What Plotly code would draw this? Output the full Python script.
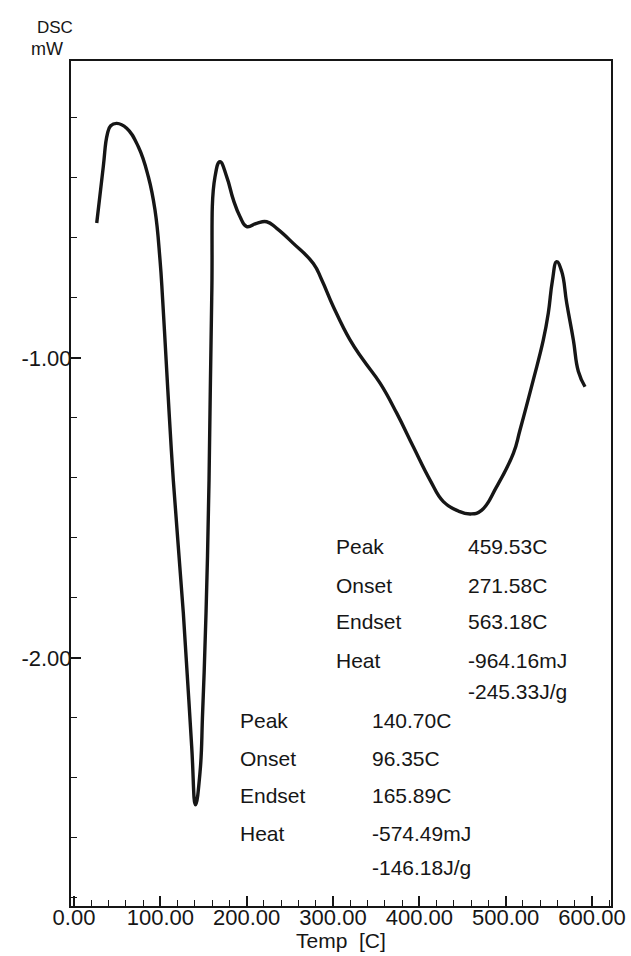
import plotly.graph_objects as go

# DSC trace: temperature (C) vs heat flow (mW)
temp_c = [26.3, 33.9, 38.5, 42.5, 49.5, 61.0, 74.5, 86.1, 93.8, 99.6, 102.7,
          108.5, 115.0, 126.6, 136.3, 140.7, 146.0, 149.0, 152.9, 156.4, 159.5,
          163.3, 169.1, 176.9, 184.6, 192.3, 200.0, 211.6, 223.2, 234.8,
          254.0, 277.2, 287.0, 300.4, 319.7, 335.1, 354.5, 373.8, 393.0,
          412.4, 427.8, 445.0, 459.53, 472.0, 489.6, 508.9, 516.6, 532.0,
          543.6, 549.4, 554.0, 559.1, 564.9, 570.7, 578.4, 584.2, 591.9]
dsc_mw = [-0.550, -0.362, -0.255, -0.226, -0.218, -0.234, -0.296, -0.396, -0.507, -0.673, -0.807,
          -1.100, -1.407, -1.850, -2.296, -2.490, -2.380, -2.180, -1.850, -1.407, -0.800,
          -0.396, -0.346, -0.396, -0.473, -0.529, -0.562, -0.551, -0.546, -0.568,
          -0.618, -0.685, -0.740, -0.829, -0.940, -1.007, -1.084, -1.184, -1.296,
          -1.407, -1.479, -1.510, -1.520, -1.508, -1.429, -1.318, -1.240, -1.073,
          -0.940, -0.850, -0.745, -0.679, -0.712, -0.817, -0.940, -1.045, -1.096]

x_tick_vals = [0, 100, 200, 300, 400, 500, 600]
x_tick_text = ["0.00", "100.00", "200.00", "300.00", "400.00", "500.00", "600.00"]
y_tick_vals = [-1.0, -2.0]
y_tick_text = ["-1.00", "-2.00"]

# Peak analysis results
peak_labels = ["Peak", "Onset", "Endset", "Heat", ""]
peak2_values = ["459.53C", "271.58C", "563.18C", "-964.16mJ", "-245.33J/g"]
peak1_values = ["140.70C", "96.35C", "165.89C", "-574.49mJ", "-146.18J/g"]

INK = "#161616"
FONT = "Liberation Sans, Arial, sans-serif"

fig = go.Figure()
fig.add_trace(go.Scatter(
    x=temp_c, y=dsc_mw, mode="lines",
    line=dict(color=INK, width=3.4, shape="spline", smoothing=1.3),
    hoverinfo="skip", showlegend=False,
))

annotations = []

def add_block(x_label, x_value, y_rows, values):
    for lab, val, yy in zip(peak_labels, values, y_rows):
        if lab:
            annotations.append(dict(x=x_label, y=yy, xref="x", yref="y", text=lab,
                                    showarrow=False, xanchor="left", yanchor="middle",
                                    font=dict(size=21, color=INK, family=FONT)))
        annotations.append(dict(x=x_value, y=yy, xref="x", yref="y", text=val,
                                showarrow=False, xanchor="left", yanchor="middle",
                                font=dict(size=21, color=INK, family=FONT)))

add_block(301.2, 454.1, [-1.629, -1.757, -1.879, -2.007, -2.112], peak2_values)
add_block(190.0, 342.9, [-2.207, -2.334, -2.460, -2.584, -2.700], peak1_values)

annotations.append(dict(x=-0.066, y=1.040, xref="paper", yref="paper", text="DSC",
                        showarrow=False, xanchor="left", yanchor="middle",
                        font=dict(size=17, color=INK, family=FONT)))
annotations.append(dict(x=-0.078, y=1.014, xref="paper", yref="paper", text="mW",
                        showarrow=False, xanchor="left", yanchor="middle",
                        font=dict(size=18, color=INK, family=FONT)))
annotations.append(dict(x=0.5, y=-0.041, xref="paper", yref="paper", text="Temp  [C]",
                        showarrow=False, xanchor="center", yanchor="middle",
                        font=dict(size=21, color=INK, family=FONT)))

fig.update_layout(
    width=631, height=956,
    margin=dict(l=71, r=20, t=61, b=50),
    paper_bgcolor="white", plot_bgcolor="white",
    annotations=annotations,
    xaxis=dict(
        range=[-3.5, 622], tickmode="array", tickvals=x_tick_vals, ticktext=x_tick_text,
        ticks="inside", ticklen=10, tickwidth=1.5, tickcolor=INK,
        minor=dict(dtick=20, ticks="inside", ticklen=6, tickwidth=1.3, tickcolor=INK),
        showline=True, linecolor=INK, linewidth=2, mirror=True,
        showgrid=False, zeroline=False, automargin=False, ticklabelstandoff=-9,
        tickfont=dict(size=22, color=INK, family=FONT),
    ),
    yaxis=dict(
        range=[-2.827, -0.01], tickmode="array", tickvals=y_tick_vals, ticktext=y_tick_text,
        ticks="inside", ticklen=10, tickwidth=1.5, tickcolor=INK,
        minor=dict(dtick=0.2, tick0=0, ticks="inside", ticklen=6, tickwidth=1.3, tickcolor=INK),
        showline=True, linecolor=INK, linewidth=2, mirror=True,
        showgrid=False, zeroline=False, ticklabelstandoff=-7, automargin=False,
        tickfont=dict(size=22, color=INK, family=FONT),
    ),
)

fig.write_html("out.html")
